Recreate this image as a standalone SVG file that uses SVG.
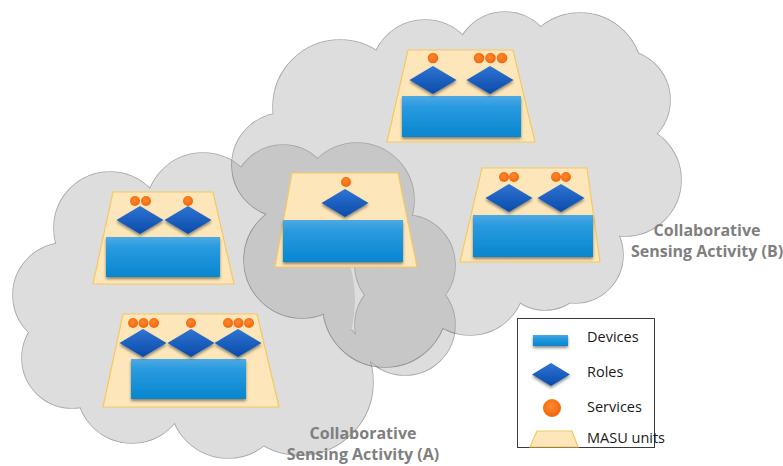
<svg xmlns="http://www.w3.org/2000/svg" width="783" height="466" viewBox="0 0 783 466">
  <defs>
    <linearGradient id="gDev" x1="0" y1="0" x2="0" y2="1">
      <stop offset="0" stop-color="#4eaae2"/>
      <stop offset="0.25" stop-color="#2a9be0"/>
      <stop offset="1" stop-color="#0686cf"/>
    </linearGradient>
    <linearGradient id="gRole" x1="0" y1="0" x2="0" y2="1">
      <stop offset="0" stop-color="#2f74d4"/>
      <stop offset="1" stop-color="#0a4ba9"/>
    </linearGradient>
    <radialGradient id="gSvc" cx="0.45" cy="0.4" r="0.6">
      <stop offset="0" stop-color="#ff8a2e"/>
      <stop offset="1" stop-color="#f2640c"/>
    </radialGradient>
    <filter id="sh" x="-20%" y="-20%" width="140%" height="160%">
      <feDropShadow dx="0" dy="2" stdDeviation="1.5" flood-color="#000" flood-opacity="0.45"/>
    </filter>
    <path id="role" d="M-23.5 0 L0 -14 L23.5 0 L0 14 Z"/>
    <style>
      .cloud-edge circle { fill: #9c9c9c; stroke: #000000; stroke-width: 1.6; }
      .cloud-fill circle { fill: #9c9c9c; stroke: none; }
      .masu { fill: #fde7ba; stroke: #f6c85f; stroke-width: 1.2; }
      .dev { fill: url(#gDev); filter: url(#sh); }
      .role { fill: url(#gRole); filter: url(#sh); }
      .svc { fill: url(#gSvc); }
      .label { font-family: "Open Sans", "Liberation Sans", sans-serif; font-weight: bold; font-size: 16px; fill: #7f7f7f; text-anchor: middle; }
      .leg { font-family: "Open Sans", "Liberation Sans", sans-serif; font-size: 14.5px; fill: #1a1a1a; }
    </style>
  </defs>

  <rect width="783" height="466" fill="#ffffff"/>

  <!-- Cloud A: union of circles, translucent so the overlap reads darker -->
  <g id="cloudA" opacity="0.333">
    <g class="cloud-edge">
      <circle cx="110" cy="228" r="56"/>
      <circle cx="203" cy="210" r="57"/>
      <circle cx="283" cy="195" r="50"/>
      <circle cx="357" cy="200" r="57"/>
      <circle cx="405" cy="265" r="50"/>
      <circle cx="405" cy="325" r="50"/>
      <circle cx="300" cy="382" r="73"/>
      <circle cx="228" cy="400" r="58"/>
      <circle cx="132" cy="388" r="55"/>
      <circle cx="72" cy="358" r="50"/>
      <circle cx="65" cy="295" r="52"/>
    </g>
    <g class="cloud-fill">
      <circle cx="110" cy="228" r="56"/>
      <circle cx="203" cy="210" r="57"/>
      <circle cx="283" cy="195" r="50"/>
      <circle cx="357" cy="200" r="57"/>
      <circle cx="405" cy="265" r="50"/>
      <circle cx="405" cy="325" r="50"/>
      <circle cx="300" cy="382" r="73"/>
      <circle cx="228" cy="400" r="58"/>
      <circle cx="132" cy="388" r="55"/>
      <circle cx="72" cy="358" r="50"/>
      <circle cx="65" cy="295" r="52"/>
      <circle cx="230" cy="300" r="125"/>
    </g>
  </g>

  <!-- Cloud B -->
  <g id="cloudB" opacity="0.333">
    <g class="cloud-edge">
      <circle cx="284" cy="165" r="52"/>
      <circle cx="340" cy="107" r="67"/>
      <circle cx="425" cy="74" r="54"/>
      <circle cx="505" cy="62" r="50"/>
      <circle cx="580" cy="75" r="62"/>
      <circle cx="620" cy="100" r="50"/>
      <circle cx="625" cy="180" r="56"/>
      <circle cx="575" cy="255" r="48"/>
      <circle cx="545" cy="265" r="45"/>
      <circle cx="470" cy="280" r="55"/>
      <circle cx="385" cy="305" r="62"/>
      <circle cx="302" cy="260" r="58"/>
    </g>
    <g class="cloud-fill">
      <circle cx="284" cy="165" r="52"/>
      <circle cx="340" cy="107" r="67"/>
      <circle cx="425" cy="74" r="54"/>
      <circle cx="505" cy="62" r="50"/>
      <circle cx="580" cy="75" r="62"/>
      <circle cx="620" cy="100" r="50"/>
      <circle cx="625" cy="180" r="56"/>
      <circle cx="575" cy="255" r="48"/>
      <circle cx="545" cy="265" r="45"/>
      <circle cx="470" cy="280" r="55"/>
      <circle cx="385" cy="305" r="62"/>
      <circle cx="302" cy="260" r="58"/>
      <circle cx="460" cy="180" r="120"/>
      <circle cx="560" cy="160" r="90"/>
    </g>
  </g>

  <!-- MASU unit, top of activity B -->
  <g id="masu-b1">
    <path class="masu" d="M408 50 H513 L535 142 H387 Z"/>
    <rect class="dev" x="402" y="96" width="119" height="41"/>
    <use class="role" href="#role" x="433" y="80"/>
    <use class="role" href="#role" x="490" y="80"/>
    <circle class="svc" cx="433" cy="58" r="5.3"/>
    <circle class="svc" cx="479" cy="58" r="5.3"/>
    <circle class="svc" cx="490.5" cy="58" r="5.3"/>
    <circle class="svc" cx="502" cy="58" r="5.3"/>
  </g>

  <!-- MASU unit, right of activity B -->
  <g id="masu-b2">
    <path class="masu" d="M482 168 H587 L600 262 H460 Z"/>
    <rect class="dev" x="473" y="215" width="120" height="42"/>
    <use class="role" href="#role" x="509" y="198"/>
    <use class="role" href="#role" x="561" y="198"/>
    <circle class="svc" cx="504" cy="177" r="5"/>
    <circle class="svc" cx="514" cy="177" r="5"/>
    <circle class="svc" cx="556" cy="177" r="5"/>
    <circle class="svc" cx="566" cy="177" r="5"/>
  </g>

  <!-- MASU unit shared by both activities -->
  <g id="masu-ab">
    <path class="masu" d="M292 173 H398 L417 267 H275 Z"/>
    <rect class="dev" x="283" y="220" width="120" height="42"/>
    <use class="role" href="#role" x="345" y="203"/>
    <circle class="svc" cx="346" cy="182" r="5"/>
  </g>

  <!-- MASU unit, top of activity A -->
  <g id="masu-a1">
    <path class="masu" d="M113 192 H213 L234 284 H93 Z"/>
    <rect class="dev" x="106" y="237" width="114" height="40"/>
    <use class="role" href="#role" x="140" y="220"/>
    <use class="role" href="#role" x="188" y="220"/>
    <circle class="svc" cx="135" cy="201" r="5"/>
    <circle class="svc" cx="146" cy="201" r="5"/>
    <circle class="svc" cx="188" cy="201" r="5"/>
  </g>

  <!-- MASU unit, bottom of activity A -->
  <g id="masu-a2">
    <path class="masu" d="M123 314 H257 L279 407 H103 Z"/>
    <rect class="dev" x="131" y="359" width="115" height="40"/>
    <use class="role" href="#role" x="143" y="343"/>
    <use class="role" href="#role" x="191" y="343"/>
    <use class="role" href="#role" x="238" y="343"/>
    <circle class="svc" cx="133" cy="323" r="5"/>
    <circle class="svc" cx="143.5" cy="323" r="5"/>
    <circle class="svc" cx="154" cy="323" r="5"/>
    <circle class="svc" cx="191" cy="323" r="5"/>
    <circle class="svc" cx="228" cy="323" r="5"/>
    <circle class="svc" cx="238.5" cy="323" r="5"/>
    <circle class="svc" cx="249" cy="323" r="5"/>
  </g>

  <!-- Activity labels -->
  <g id="label-b">
    <text class="label" x="707" y="236">Collaborative</text>
    <text class="label" x="707" y="257">Sensing Activity (B)</text>
  </g>
  <g id="label-a">
    <text class="label" x="363" y="439">Collaborative</text>
    <text class="label" x="363" y="460">Sensing Activity (A)</text>
  </g>

  <!-- Legend -->
  <g id="legend">
    <rect x="517.5" y="318.5" width="137" height="129" fill="#ffffff" stroke="#3a3a3a" stroke-width="1"/>
    <rect class="dev" x="533" y="335" width="35" height="11"/>
    <text class="leg" x="587" y="342">Devices</text>
    <path class="role" d="M532 374.5 L551 363 L570 374.5 L551 386 Z"/>
    <text class="leg" x="587" y="377">Roles</text>
    <circle class="svc" cx="552" cy="408" r="9"/>
    <text class="leg" x="587" y="412">Services</text>
    <path class="masu" d="M537 431 H572 L578 447 H530 Z"/>
    <text class="leg" x="587" y="443">MASU units</text>
  </g>
</svg>
